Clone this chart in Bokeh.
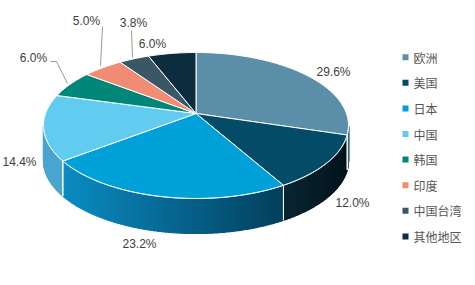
import numpy as np
from bokeh.plotting import figure
from bokeh.models import Range1d
from bokeh.core.properties import value
from bokeh.embed import file_html
from bokeh.resources import INLINE

# ---- data ----
categories = ["欧洲", "美国", "日本", "中国", "韩国", "印度", "中国台湾", "其他地区"]
shares = [29.6, 12.0, 23.2, 14.4, 6.0, 5.0, 3.8, 6.0]

# ---- styles ----
top_colors = ["#5b8ea7", "#034b67", "#00a0d9", "#62cbf0", "#00877a", "#f08b74", "#3b5766", "#0c2d3e"]
side_left = ["#3f6c82", "#0a2533", "#0a8cc2", "#4ba6ce", "#006a60", "#c06a58", "#2a4150", "#081f2b"]
side_right = ["#3a6479", "#03141c", "#033f5c", "#4ba6ce", "#006a60", "#c06a58", "#2a4150", "#081f2b"]

# label layout (screen px, centre of text)
label_pos = [(333, 71), (352, 202), (139, 243), (19, 161), (33, 57), (86, 20), (133, 22), (152, 43)]
leaders = [None, None, None, None,
           [(50, 61), (56, 61), (67, 83)],
           [(102, 26), (100, 65)],
           [(131, 30), (132, 57)],
           None]

W, H = 475, 285
cx, cy, a, b = 195.5, 125.0, 152.5, 73.0
apex_v = -12.0 / 73.0
depth = 35.0

p = figure(width=W, height=H, output_backend="svg", toolbar_location=None,
           x_range=Range1d(0, W), y_range=Range1d(H, 0), min_border=0)
p.axis.visible = False
p.grid.visible = False
p.outline_line_color = None
p.background_fill_color = "white"
p.border_fill_color = "white"


def boundary_phi(theta):
    d = np.array([np.sin(theta), -np.cos(theta)])
    pnt = np.array([0.0, apex_v])
    pd = pnt @ d
    s = -pd + np.sqrt(pd * pd - (pnt @ pnt - 1.0))
    q = pnt + s * d
    return np.arctan2(q[0], -q[1])


def ell(phi):
    return cx + a * np.sin(phi), cy - b * np.cos(phi)


cum = np.concatenate([[0.0], np.cumsum(shares)])
thetas = cum / cum[-1] * 2 * np.pi
phis = np.unwrap(np.array([boundary_phi(t) for t in thetas]))
phis[0] = 0.0
phis[-1] = 2 * np.pi

apx, apy = ell(0)[0], cy + b * apex_v


def hexmix(c1, c2, t):
    t = min(max(t, 0.0), 1.0)
    r1 = [int(c1[i:i + 2], 16) for i in (1, 3, 5)]
    r2 = [int(c2[i:i + 2], 16) for i in (1, 3, 5)]
    return "#" + "".join("%02x" % int(round(x + (y - x) * t)) for x, y in zip(r1, r2))


# sides (front half)
edge_lines = []
for i in range(len(shares)):
    s0, s1 = max(phis[i], np.pi / 2), min(phis[i + 1], 3 * np.pi / 2)
    if s1 <= s0:
        continue
    x0, _ = ell(s0)
    x1, _ = ell(s1)
    xl, xr = min(x0, x1), max(x0, x1)
    nstrip = 60
    for k in range(nstrip):
        f0 = s0 + (s1 - s0) * k / nstrip
        f1 = s0 + (s1 - s0) * (k + 1) / nstrip
        ph = np.linspace(f0, f1, 4)
        xs, ys = ell(ph)
        tx = (np.mean(xs) - xl) / max(xr - xl, 1e-6)
        col = hexmix(side_left[i], side_right[i], tx)
        p.patch(list(xs) + list(xs[::-1]), list(ys) + list(ys[::-1] + depth),
                fill_color=col, line_color=col, line_width=1.2)
    for f in (phis[i], phis[i + 1]):
        if np.pi / 2 < f < 3 * np.pi / 2:
            ex, ey = ell(f)
            edge_lines.append(([ex, ex], [ey, ey + depth]))

for xs, ys in edge_lines:
    p.line(xs, ys, line_color="white", line_width=1)

# tops
for i in range(len(shares)):
    ph = np.linspace(phis[i], phis[i + 1], max(3, int(np.degrees(phis[i + 1] - phis[i])) + 2))
    xs, ys = ell(ph)
    p.patch([apx] + list(xs), [apy] + list(ys), fill_color=top_colors[i],
            line_color="white", line_width=1)

# front rim highlight
ph = np.linspace(np.pi / 2, 3 * np.pi / 2, 120)
xs, ys = ell(ph)
p.line(xs, ys, line_color="#e8f4fa", line_width=1, line_alpha=0.8)

# leader lines
for ld in leaders:
    if ld:
        p.line([q[0] for q in ld], [q[1] for q in ld], line_color="#999999", line_width=1)

# labels
p.text([q[0] for q in label_pos], [q[1] for q in label_pos],
       text=["%.1f%%" % v for v in shares],
       text_font=value("Liberation Sans"), text_font_size="12px",
       text_color="#404040", text_align="center", text_baseline="middle")

# legend
ly = [56.7 + 25.6 * i for i in range(len(categories))]
p.scatter([405] * len(categories), ly, marker="square", size=6,
          fill_color=top_colors, line_color=None)
p.text([413] * len(categories), ly, text=categories,
       text_font=value("Noto Sans CJK SC"), text_font_size="12px",
       text_color="#555555", text_align="left", text_baseline="middle")

open("out.html", "w").write(file_html(p, INLINE))
